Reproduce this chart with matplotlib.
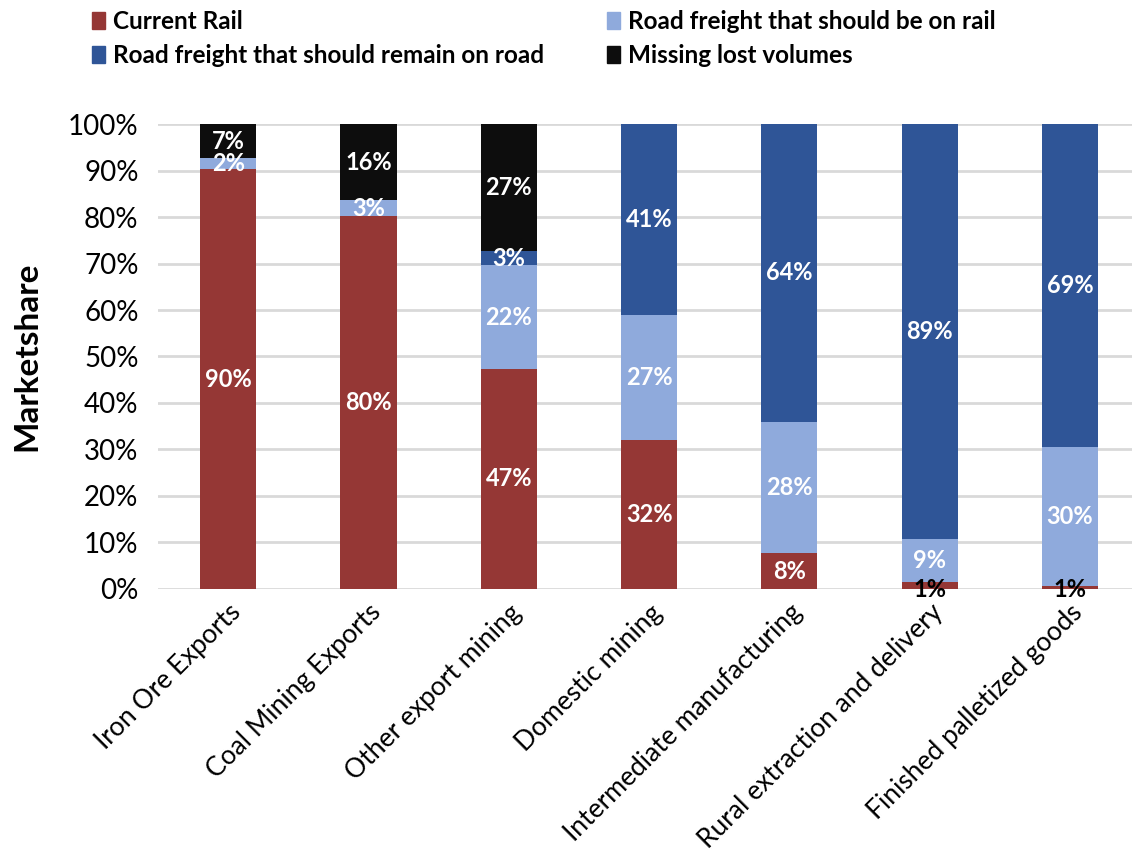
import numpy as np
import matplotlib
matplotlib.use('Agg')
from matplotlib import pyplot as plt
from matplotlib.patches import Patch

plt.rcParams['font.family'] = ['Lato', 'DejaVu Sans']

categories = ['Iron Ore Exports', 'Coal Mining Exports', 'Other export mining',
              'Domestic mining', 'Intermediate manufacturing',
              'Rural extraction and delivery', 'Finished palletized goods']

# share of each segment, in percent
current_rail = [90.3, 80.25, 47.3, 32.0, 7.6, 1.4, 0.6]
road_should_rail = [2.4, 3.35, 22.3, 26.9, 28.4, 9.4, 30.0]
road_remain = [0.0, 0.0, 3.1, 41.1, 64.0, 89.2, 69.4]
missing_lost = [7.3, 16.4, 27.3, 0.0, 0.0, 0.0, 0.0]

series = ['Current Rail', 'Road freight that should be on rail',
          'Road freight that should remain on road', 'Missing lost volumes']
colors = ['#953735', '#8faadc', '#2f5597', '#0d0d0d']
values = [current_rail, road_should_rail, road_remain, missing_lost]

fig = plt.figure(figsize=(11.32, 8.55), dpi=100)
ax = fig.add_axes([0.1396, 0.3115, 0.8604, 0.5431])

x = np.arange(len(categories))
bottom = np.zeros(len(categories))
for j, vals in enumerate(values):
    vals = np.array(vals)
    ax.bar(x, vals, 0.4, bottom=bottom, color=colors[j], zorder=3)
    for i, v in enumerate(vals):
        if v <= 0:
            continue
        txt_color = 'black' if (j == 0 and v < 2) else 'white'
        ypos = bottom[i] + v / 2
        if txt_color == 'black':
            ypos = -0.2
        ax.text(x[i], ypos, '%d%%' % int(round(v)), ha='center', va='center',
                fontsize=17, fontweight='bold', color=txt_color, zorder=4)
    bottom += vals

ax.set_ylim(0, 100)
ax.set_xlim(-0.5, 6.442)
ax.set_yticks(np.arange(0, 101, 10))
ax.set_yticklabels(['%d%%' % t for t in range(0, 101, 10)], fontsize=20)
ax.set_xticks(x)
ax.set_xticklabels(categories, rotation=45, ha='right', rotation_mode='anchor', fontsize=19)
ax.tick_params(length=0, pad=14)
ax.tick_params(axis='x', pad=8)
ax.yaxis.grid(True, color='#d9d9d9', linewidth=2, zorder=0)
ax.set_axisbelow(True)
for s in ax.spines.values():
    s.set_visible(False)
ax.set_ylabel('Marketshare', fontsize=24, fontweight='bold', labelpad=19)

handles = [Patch(color=colors[0]), Patch(color=colors[2]),
           Patch(color=colors[1]), Patch(color=colors[3])]
labels = [series[0], series[2], series[1], series[3]]
fig.legend(handles, labels, ncol=2, loc='upper left', bbox_to_anchor=(0.062, 1.014),
           frameon=False, prop={'size': 17.5, 'weight': 'bold'},
           handlelength=0.55, handleheight=0.7, handletextpad=0.3,
           columnspacing=2.6, labelspacing=0.47)

plt.savefig('out.png', dpi=100)
